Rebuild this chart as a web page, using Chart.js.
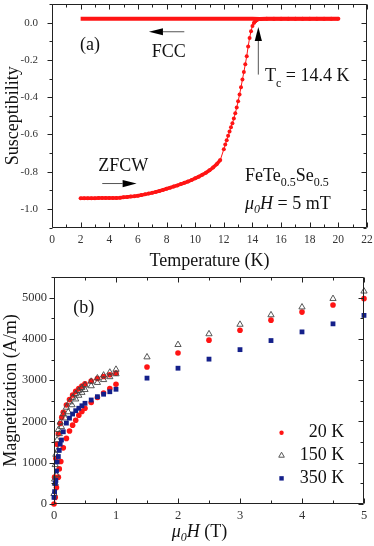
<!DOCTYPE html>
<html>
<head>
<meta charset="utf-8">
<script src="https://cdn.jsdelivr.net/npm/chart.js@4.4.1/dist/chart.umd.min.js"></script>
<style>
  html, body { margin: 0; padding: 0; background: #fff; }
  #wrap { position: relative; width: 374px; height: 546px; }
  .panel { position: absolute; left: 0; width: 374px; }
  #boxA { top: 0; height: 272px; }
  #boxB { top: 272px; height: 274px; }
</style>
</head>
<body>
<div id="wrap">
  <div class="panel" id="boxA"><canvas id="chartA"></canvas></div>
  <div class="panel" id="boxB"><canvas id="chartB"></canvas></div>
</div>
<script>
const RED = "#ff1414";
const NAVY = "#14208a";
const SERIF = "'Liberation Serif', 'Times New Roman', serif";

// (a) susceptibility vs temperature, zero-field-cooled warming
const zfcTemp = [
  2, 2.25, 2.5, 2.75, 3, 3.25, 3.5, 3.75, 4, 4.25, 4.5, 4.75, 5, 5.25, 5.5, 5.75,
  6, 6.25, 6.5, 6.75, 7, 7.25, 7.5, 7.75, 8, 8.25, 8.5, 8.75, 9, 9.25, 9.5, 9.75,
  10, 10.25, 10.5, 10.75, 11, 11.25, 11.5, 11.75,
  12, 12.1, 12.2, 12.3, 12.4, 12.5, 12.6, 12.7, 12.8, 12.9, 13, 13.1, 13.2, 13.3,
  13.4, 13.5, 13.6, 13.7, 13.8, 13.9, 14, 14.1, 14.2, 14.3, 14.4, 14.5,
  15, 15.5, 16, 16.5, 17, 17.5, 18, 18.5, 19, 19.5, 20,
];
const zfcChi = [
  -0.943, -0.943, -0.943, -0.943, -0.943, -0.942, -0.942, -0.942, -0.942, -0.941,
  -0.941, -0.94, -0.938, -0.936, -0.934, -0.932, -0.929, -0.926, -0.922, -0.918,
  -0.914, -0.909, -0.904, -0.898, -0.892, -0.886, -0.88, -0.874, -0.867, -0.86,
  -0.853, -0.845, -0.836, -0.827, -0.817, -0.806, -0.793, -0.778, -0.76, -0.738,
  -0.68, -0.655, -0.632, -0.608, -0.585, -0.562, -0.54, -0.515, -0.487, -0.456,
  -0.422, -0.386, -0.347, -0.306, -0.265, -0.224, -0.18, -0.128, -0.082, -0.046,
  -0.018, -0.002, 0.008, 0.014, 0.018, 0.02,
  0.021, 0.021, 0.021, 0.021, 0.021, 0.021, 0.021, 0.021, 0.021, 0.021, 0.021,
];
// field-cooled cooling
const fcTemp = [
  2, 2.5, 3, 3.5, 4, 4.5, 5, 5.5, 6, 6.5, 7, 7.5, 8, 8.5, 9, 9.5, 10, 10.5, 11,
  11.5, 12, 12.5, 13, 13.5, 14, 14.5, 15, 15.5, 16, 16.5, 17, 17.5, 18, 18.5, 19,
  19.5, 20,
];
const fcChi = [
  0.021, 0.021, 0.021, 0.021, 0.021, 0.021, 0.021, 0.021, 0.021, 0.021, 0.021,
  0.021, 0.021, 0.021, 0.021, 0.021, 0.021, 0.021, 0.021, 0.021, 0.021, 0.021,
  0.021, 0.021, 0.021, 0.02, 0.021, 0.021, 0.021, 0.021, 0.021, 0.021, 0.021,
  0.021, 0.021, 0.021, 0.021,
];
const tempTicks = [0, 2, 4, 6, 8, 10, 12, 14, 16, 18, 20, 22];
const chiTicks = [-1.0, -0.8, -0.6, -0.4, -0.2, 0.0];

// (b) magnetization vs field
const fieldHigh = [1.5, 2, 2.5, 3, 3.5, 4, 4.5, 5];

const field20a = [0, 0.02, 0.04, 0.07, 0.085, 0.11, 0.15, 0.2, 0.25, 0.3, 0.35, 0.4, 0.45, 0.5, 0.6, 0.7, 0.8, 0.9, 1.0];
const mag20a = [0, 160, 400, 650, 850, 1030, 1360, 1590, 1770, 1910, 2030, 2150, 2240, 2320, 2460, 2580, 2690, 2800, 2900];
const field20b = [0.01, 0.03, 0.05, 0.07, 0.1, 0.125, 0.15, 0.2, 0.25, 0.3, 0.35, 0.4, 0.45, 0.5, 0.6, 0.7, 0.8, 0.9, 1.0];
const mag20b = [650, 1100, 1450, 1700, 1950, 2100, 2220, 2400, 2530, 2640, 2730, 2800, 2860, 2910, 2980, 3040, 3090, 3130, 3170];
const mag20High = [3320, 3660, 3970, 4210, 4455, 4650, 4820, 4975];

const field150a = [0, 0.01, 0.02, 0.03, 0.05, 0.07, 0.1, 0.15, 0.2, 0.25, 0.3, 0.35, 0.4, 0.45, 0.5, 0.6, 0.7, 0.8, 0.9, 1.0];
const mag150a = [250, 600, 950, 1200, 1550, 1800, 1980, 2180, 2340, 2470, 2580, 2670, 2750, 2820, 2880, 2970, 3050, 3120, 3190, 3260];
const field150b = [0.02, 0.04, 0.06, 0.085, 0.12, 0.18, 0.23, 0.29, 0.35, 0.4, 0.45, 0.5, 0.6, 0.7, 0.8, 0.9, 1.0];
const mag150b = [500, 700, 1300, 1700, 1870, 2080, 2230, 2400, 2540, 2630, 2700, 2770, 2860, 2940, 3010, 3080, 3150];
const mag150High = [3560, 3860, 4120, 4350, 4580, 4770, 4975, 5155];

const field350 = [0, 0.01, 0.02, 0.03, 0.04, 0.05, 0.07, 0.085, 0.1, 0.12, 0.15, 0.2, 0.25, 0.3, 0.35, 0.4, 0.45, 0.5, 0.6, 0.7, 0.8, 0.9, 1.0];
const mag350 = [160, 300, 500, 570, 800, 1020, 1150, 1300, 1450, 1550, 1750, 1960, 2080, 2180, 2260, 2320, 2380, 2440, 2520, 2600, 2660, 2720, 2780];
const mag350High = [3050, 3290, 3510, 3740, 3960, 4170, 4365, 4570];

const fieldTicks = [0, 1, 2, 3, 4, 5];
const magTicks = [0, 1000, 2000, 3000, 4000, 5000];

function pairs(xs, ys) {
  return xs.map((x, i) => ({ x: x, y: ys[i] }));
}

function serif(size) {
  return { family: SERIF, size: size };
}

Chart.defaults.font.family = SERIF;
Chart.defaults.color = "#333";
Chart.defaults.animation = false;

// box round the plot, minor/major ticks (left ones out, the rest in)
const framePlugin = {
  id: "frame",
  afterDatasetsDraw(chart, args, opts) {
    const { ctx, chartArea: a, scales } = chart;
    const sx = scales.x;
    const sy = scales.y;
    const l = Math.round(a.left) + 0.5;
    const r = Math.round(a.right) - 0.5;
    const t = Math.round(a.top) + 0.5;
    const b = Math.round(a.bottom) - 0.5;
    ctx.save();
    ctx.strokeStyle = "#222";
    ctx.lineWidth = 1;
    ctx.beginPath();
    ctx.rect(l, t, r - l, b - t);
    const nx = Math.round((sx.max - sx.min) / opts.xMinor);
    for (let i = 0; i <= nx; i++) {
      const v = sx.min + i * opts.xMinor;
      const major = Math.abs(v / opts.xMajor - Math.round(v / opts.xMajor)) < 1e-6;
      const len = major ? 5 : 3;
      const p = Math.round(sx.getPixelForValue(v)) + 0.5;
      ctx.moveTo(p, b);
      ctx.lineTo(p, b - len);
      ctx.moveTo(p, t);
      ctx.lineTo(p, t + len);
    }
    const ny = Math.round((sy.max - sy.min) / opts.yMinor);
    for (let i = 0; i <= ny; i++) {
      const v = sy.min + i * opts.yMinor;
      const major = Math.abs(v / opts.yMajor - Math.round(v / opts.yMajor)) < 1e-6;
      const len = major ? 5 : 3;
      const p = Math.round(sy.getPixelForValue(v)) + 0.5;
      ctx.moveTo(l, p);
      ctx.lineTo(l - len, p);
      ctx.moveTo(r, p);
      ctx.lineTo(r - len, p);
    }
    ctx.stroke();
    ctx.restore();
  },
};

// text made of pieces: [text, size, dy, italic]
function drawRich(ctx, x, y, parts) {
  let cx = x;
  for (const [txt, size, dy, italic] of parts) {
    ctx.font = (italic ? "italic " : "") + size + "px " + SERIF;
    ctx.fillText(txt, cx, y + dy);
    cx += ctx.measureText(txt).width;
  }
  return cx - x;
}

function arrow(ctx, x1, y1, x2, y2) {
  const ang = Math.atan2(y2 - y1, x2 - x1);
  const hl = 14;
  const hw = 3.6;
  ctx.save();
  ctx.strokeStyle = "#555";
  ctx.lineWidth = 1;
  ctx.beginPath();
  ctx.moveTo(x1, y1);
  ctx.lineTo(x2 - hl * Math.cos(ang), y2 - hl * Math.sin(ang));
  ctx.stroke();
  ctx.translate(x2, y2);
  ctx.rotate(ang);
  ctx.fillStyle = "#000";
  ctx.beginPath();
  ctx.moveTo(0, 0);
  ctx.lineTo(-hl, -hw);
  ctx.lineTo(-hl, hw);
  ctx.closePath();
  ctx.fill();
  ctx.restore();
}

// fixed axis box sizes; drop the label overhang padding chart.js adds
function fixX(h) {
  return (s) => { s.height = h; s.paddingLeft = 0; s.paddingRight = 0; };
}
function fixY(w) {
  return (s) => { s.width = w; s.paddingTop = 0; s.paddingBottom = 0; };
}

const notesA = {
  id: "notesA",
  afterDraw(chart) {
    const { ctx, scales: { x, y } } = chart;
    const X = (v) => x.getPixelForValue(v);
    const Y = (v) => y.getPixelForValue(v);
    ctx.save();
    ctx.fillStyle = "#111";
    ctx.textBaseline = "alphabetic";
    ctx.textAlign = "left";
    drawRich(ctx, X(1.96), Y(-0.147), [["(a)", 18, 0, false]]);
    drawRich(ctx, X(6.96), Y(-0.187), [["FCC", 18, 0, false]]);
    drawRich(ctx, X(3.23), Y(-0.797), [["ZFCW", 18, 0, false]]);
    drawRich(ctx, X(14.87), Y(-0.315), [
      ["T", 18, 0, false],
      ["c", 12, 6, false],
      [" = 14.4 K", 18, 0, false],
    ]);
    drawRich(ctx, X(13.48), Y(-0.851), [
      ["FeTe", 18, 0, false],
      ["0.5", 12, 5, false],
      ["Se", 18, 0, false],
      ["0.5", 12, 5, false],
    ]);
    drawRich(ctx, X(13.48), Y(-1.0), [
      ["\u03bc", 18, 0, true],
      ["0", 12, 4, true],
      ["H", 18, 0, true],
      [" = 5 mT", 18, 0, false],
    ]);
    arrow(ctx, X(9.24), Y(-0.049), X(6.77), Y(-0.049));
    arrow(ctx, X(3.51), Y(-0.864), X(5.91), Y(-0.864));
    arrow(ctx, X(14.41), Y(-0.279), X(14.41), Y(-0.023));
    ctx.restore();
  },
};

const notesB = {
  id: "notesB",
  afterDraw(chart) {
    const { ctx, chartArea: a, scales: { x, y } } = chart;
    const X = (v) => x.getPixelForValue(v);
    const Y = (v) => y.getPixelForValue(v);
    ctx.save();
    ctx.fillStyle = "#111";
    ctx.textBaseline = "alphabetic";
    ctx.textAlign = "left";
    drawRich(ctx, X(0.31), Y(4634), [["(b)", 18, 0, false]]);
    // axis title with italic symbol
    drawRich(ctx, X(1.9), a.bottom + 33, [
      ["\u03bc", 18, 0, true],
      ["0", 12, 4, true],
      ["H", 18, 0, true],
      [" (T)", 18, 0, false],
    ]);
    // legend
    const rows = [
      { label: "20 K", m: 1617, kind: "dot" },
      { label: "150 K", m: 1073, kind: "tri" },
      { label: "350 K", m: 512, kind: "sq" },
    ];
    ctx.font = "18px " + SERIF;
    ctx.textAlign = "right";
    for (const row of rows) {
      const by = Y(row.m);
      ctx.fillStyle = "#111";
      ctx.fillText(row.label, X(4.68), by);
      const mx = X(3.67);
      const my = by - 4.5;
      if (row.kind === "dot") {
        ctx.fillStyle = RED;
        ctx.beginPath();
        ctx.arc(mx, my, 2.2, 0, Math.PI * 2);
        ctx.fill();
      } else if (row.kind === "tri") {
        ctx.strokeStyle = "#555";
        ctx.lineWidth = 1;
        ctx.beginPath();
        ctx.moveTo(mx, my - 3);
        ctx.lineTo(mx + 2.8, my + 2);
        ctx.lineTo(mx - 2.8, my + 2);
        ctx.closePath();
        ctx.stroke();
      } else {
        ctx.fillStyle = NAVY;
        ctx.fillRect(mx - 2.2, my - 2.2, 4.4, 4.4);
      }
    }
    ctx.restore();
  },
};

new Chart(document.getElementById("chartA"), {
  type: "scatter",
  data: {
    datasets: [
      {
        label: "FC",
        data: pairs(fcTemp, fcChi),
        showLine: true,
        borderColor: RED,
        borderWidth: 4,
        pointRadius: 0,
        clip: false,
      },
      {
        label: "ZFCW",
        data: pairs(zfcTemp, zfcChi),
        showLine: true,
        borderColor: RED,
        borderWidth: 1,
        // dense readings merge into a thick trace where the curve is flat
        segment: {
          borderWidth: (c) =>
            Math.abs((c.p1.parsed.y - c.p0.parsed.y) / (c.p1.parsed.x - c.p0.parsed.x)) < 0.15 ? 3.5 : 1,
        },
        pointRadius: 2,
        pointBorderWidth: 0,
        pointBackgroundColor: RED,
        clip: false,
      },
    ],
  },
  options: {
    responsive: true,
    maintainAspectRatio: false,
    layout: { padding: { left: 0, right: 7, top: 2, bottom: 0 } },
    plugins: {
      legend: { display: false },
      tooltip: { enabled: false },
      frame: { xMinor: 1, xMajor: 2, yMinor: 0.1, yMajor: 0.2 },
    },
    scales: {
      x: {
        type: "linear",
        min: 0,
        max: 22,
        afterBuildTicks: (s) => { s.ticks = tempTicks.map((v) => ({ value: v })); },
        afterFit: fixX(44.5),
        grid: { display: false, drawTicks: false },
        border: { display: false },
        ticks: {
          padding: 6,
          maxRotation: 0,
          autoSkip: false,
          font: serif(11.5),
          callback: (v) => String(v),
        },
        title: {
          display: true,
          text: "Temperature (K)",
          color: "#111",
          font: serif(18),
          padding: { top: 0, bottom: 0 },
        },
      },
      y: {
        min: -1.1,
        max: 0.1,
        afterBuildTicks: (s) => { s.ticks = chiTicks.map((v) => ({ value: v })); },
        afterFit: fixY(52),
        grid: { display: false, drawTicks: false },
        border: { display: false },
        ticks: {
          padding: 14,
          autoSkip: false,
          font: serif(11),
          callback: (v) => v.toFixed(1),
        },
        title: {
          display: true,
          text: "Susceptibility",
          color: "#111",
          font: serif(18),
          padding: { top: 2, bottom: 0 },
        },
      },
    },
  },
  plugins: [framePlugin, notesA],
});

new Chart(document.getElementById("chartB"), {
  type: "scatter",
  data: {
    datasets: [
      {
        label: "20 K",
        data: pairs(field20a, mag20a).concat(pairs(field20b, mag20b), pairs(fieldHigh, mag20High)),
        pointStyle: "circle",
        pointRadius: 2.8,
        pointBorderWidth: 0,
        pointBackgroundColor: RED,
        order: 3,
        clip: false,
      },
      {
        label: "150 K",
        data: pairs(field150a, mag150a).concat(pairs(field150b, mag150b), pairs(fieldHigh, mag150High)),
        pointStyle: "triangle",
        pointRadius: 3.6,
        pointBorderWidth: 0.9,
        pointBorderColor: "#444",
        pointBackgroundColor: "rgba(255,255,255,0)",
        order: 2,
        clip: false,
      },
      {
        label: "350 K",
        data: pairs(field350, mag350).concat(pairs(fieldHigh, mag350High)),
        pointStyle: "rect",
        pointRadius: 3.4,
        pointBorderWidth: 0,
        pointBackgroundColor: NAVY,
        order: 1,
        clip: false,
      },
    ],
  },
  options: {
    responsive: true,
    maintainAspectRatio: false,
    layout: { padding: { left: 0, right: 10, top: 5, bottom: 0 } },
    plugins: {
      legend: { display: false },
      tooltip: { enabled: false },
      frame: { xMinor: 0.5, xMajor: 1, yMinor: 500, yMajor: 1000 },
    },
    scales: {
      x: {
        type: "linear",
        min: 0,
        max: 5,
        afterBuildTicks: (s) => { s.ticks = fieldTicks.map((v) => ({ value: v })); },
        afterFit: fixX(42),
        grid: { display: false, drawTicks: false },
        border: { display: false },
        ticks: {
          padding: 4,
          maxRotation: 0,
          autoSkip: false,
          font: serif(12.5),
          callback: (v) => String(v),
        },
        title: { display: false },
      },
      y: {
        min: 0,
        max: 5500,
        afterBuildTicks: (s) => { s.ticks = magTicks.map((v) => ({ value: v })); },
        afterFit: fixY(54),
        grid: { display: false, drawTicks: false },
        border: { display: false },
        ticks: {
          padding: 7,
          autoSkip: false,
          font: serif(12.5),
          callback: (v) => String(v),
        },
        title: {
          display: true,
          text: "Magnetization (A/m)",
          color: "#111",
          font: serif(18),
          padding: { top: 0, bottom: 0 },
        },
      },
    },
  },
  plugins: [framePlugin, notesB],
});
</script>
</body>
</html>
